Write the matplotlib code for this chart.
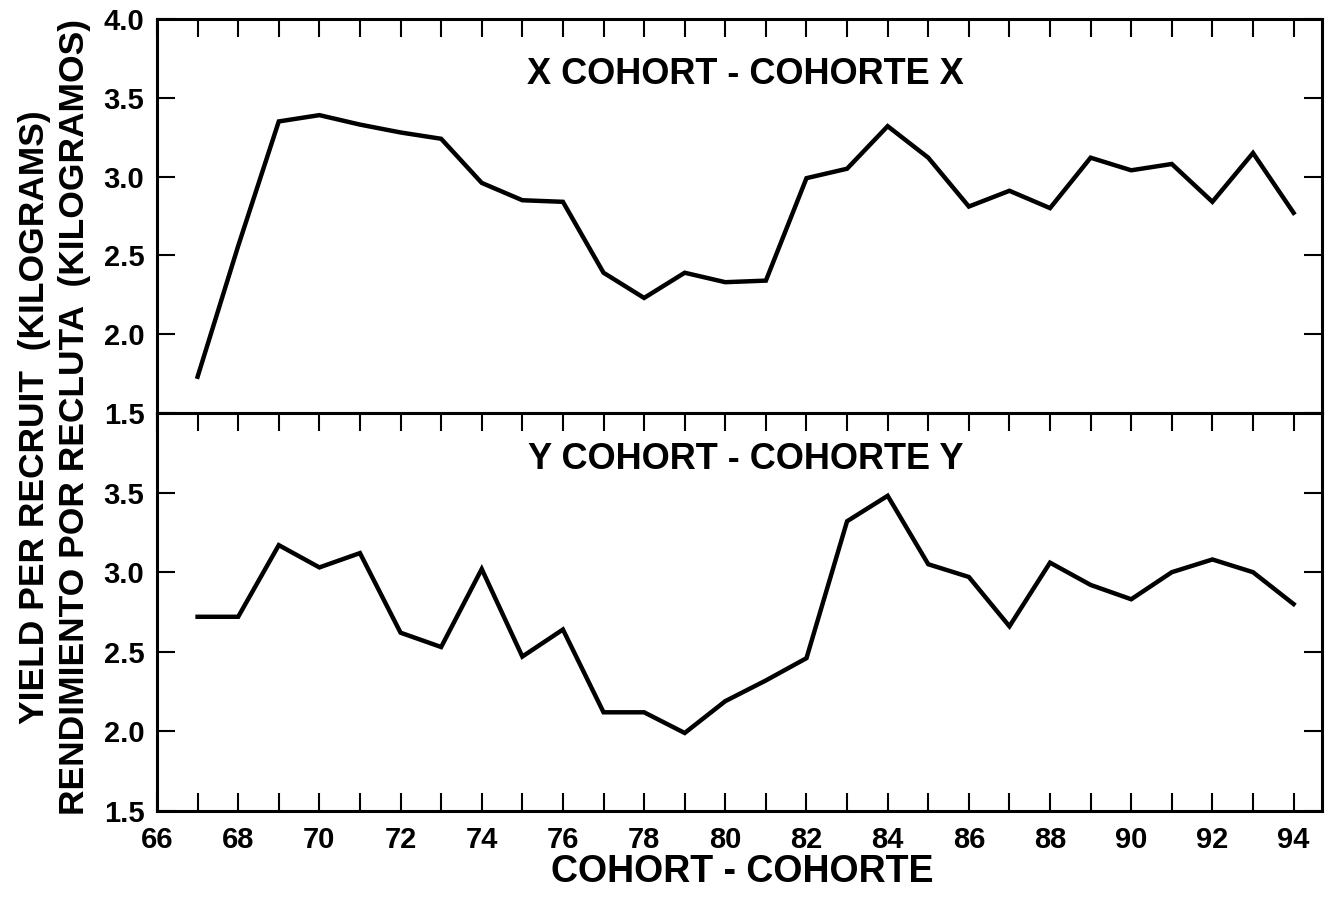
import matplotlib
matplotlib.use("Agg")
import matplotlib.pyplot as plt
from matplotlib.ticker import MultipleLocator, FormatStrFormatter

plt.rcParams['font.family'] = ['Liberation Sans', 'DejaVu Sans']
plt.rcParams['font.weight'] = 'bold'

# cohort years (19xx)
years = list(range(67, 95))

# yield per recruit, kg
x_cohort = [1.73, 2.56, 3.35, 3.39, 3.33, 3.28, 3.24, 2.96, 2.85, 2.84,
            2.39, 2.23, 2.39, 2.33, 2.34, 2.99, 3.05, 3.32, 3.12, 2.81,
            2.91, 2.80, 3.12, 3.04, 3.08, 2.84, 3.15, 2.77]
y_cohort = [2.72, 2.72, 3.17, 3.03, 3.12, 2.62, 2.53, 3.02, 2.47, 2.64,
            2.12, 2.12, 1.99, 2.19, 2.32, 2.46, 3.32, 3.48, 3.05, 2.97,
            2.66, 3.06, 2.92, 2.83, 3.00, 3.08, 3.00, 2.80]

titles = ['X COHORT - COHORTE X', 'Y COHORT - COHORTE Y']
ylabel_en = 'YIELD PER RECRUIT  (KILOGRAMS)'
ylabel_es = 'RENDIMIENTO POR RECLUTA  (KILOGRAMOS)'
xlabel = 'COHORT - COHORTE'

fig = plt.figure(figsize=(13.39, 9.01), dpi=100)
left, width = 157 / 1339, (1322 - 157) / 1339
ax_top = fig.add_axes([left, 1 - 413 / 901, width, 394 / 901])
ax_bot = fig.add_axes([left, 1 - 811 / 901, width, 398 / 901])


def style(ax, top_ticks, bottom_ticks, yticks):
    ax.set_xlim(66, 94.7)
    ax.set_ylim(1.5, 4.0)
    for sp in ax.spines.values():
        sp.set_linewidth(2.2)
    ax.xaxis.set_major_locator(MultipleLocator(2))
    ax.xaxis.set_minor_locator(MultipleLocator(1))
    ax.set_yticks(yticks)
    ax.yaxis.set_major_formatter(FormatStrFormatter('%.1f'))
    ax.tick_params(axis='x', which='both', direction='in', length=13, width=1.5,
                   top=top_ticks, bottom=bottom_ticks, labelbottom=bottom_ticks,
                   labelsize=21, pad=11)
    ax.tick_params(axis='y', direction='in', length=13, width=1.5,
                   left=True, right=True, labelsize=21, pad=9)


style(ax_top, True, False, [1.5, 2.0, 2.5, 3.0, 3.5, 4.0])
style(ax_bot, True, True, [1.5, 2.0, 2.5, 3.0, 3.5])

ax_top.plot(years, x_cohort, color='black', lw=3.2, solid_joinstyle='miter')
ax_bot.plot(years, y_cohort, color='black', lw=3.2, solid_joinstyle='miter')

ax_top.text(0.505, 0.858, titles[0], transform=ax_top.transAxes, ha='center',
            va='center', fontsize=26, fontweight='bold')
ax_bot.text(0.505, 0.882, titles[1], transform=ax_bot.transAxes, ha='center',
            va='center', fontsize=26, fontweight='bold')

fig.text(35 / 1339, 1 - 417 / 901, ylabel_en, rotation=90, ha='center',
         va='center', fontsize=25.5, fontweight='bold')
fig.text(75 / 1339, 1 - 417 / 901, ylabel_es, rotation=90, ha='center',
         va='center', fontsize=25.5, fontweight='bold')
fig.text(742 / 1339, 1 - 872 / 901, xlabel, ha='center', va='center',
         fontsize=27, fontweight='bold')

fig.savefig('out.png', dpi=100)
